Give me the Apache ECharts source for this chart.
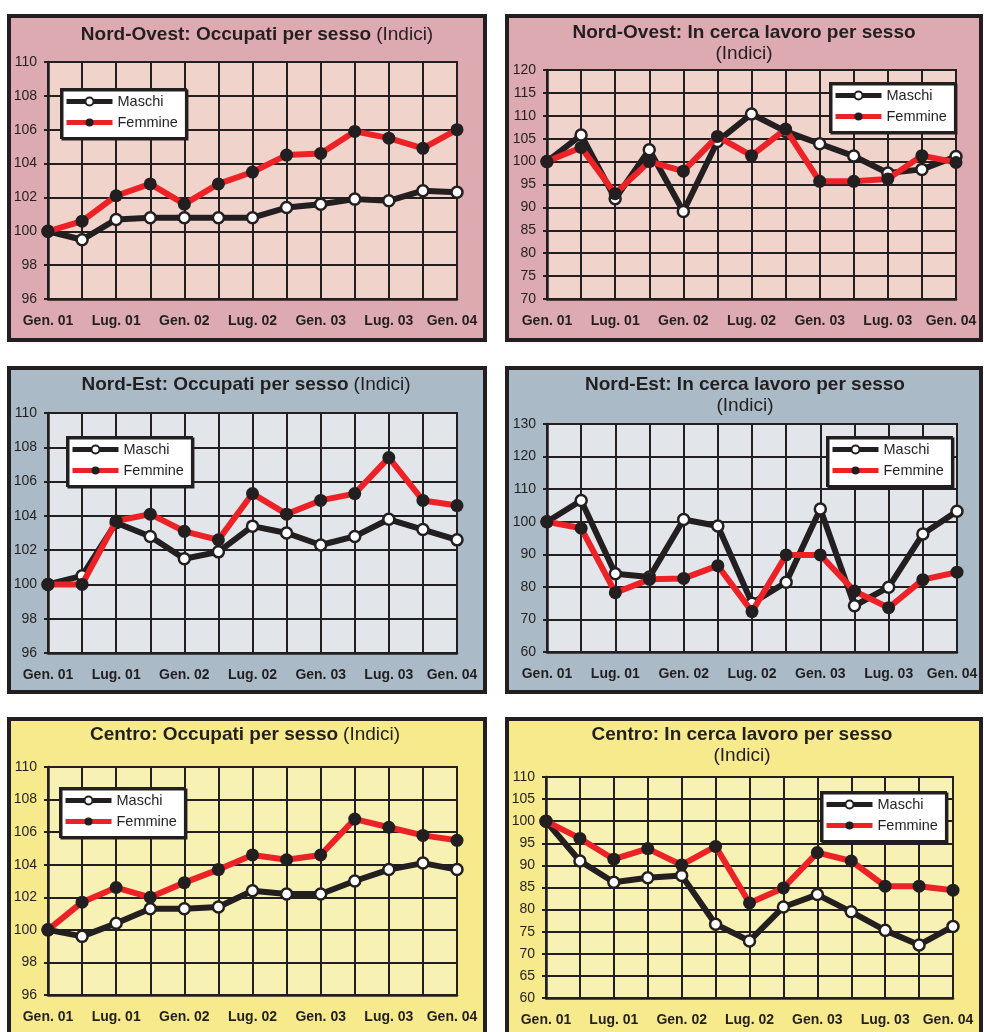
<!DOCTYPE html>
<html>
<head>
<meta charset="utf-8">
<title>Occupati e in cerca di lavoro per sesso</title>
<script src="https://cdn.jsdelivr.net/npm/echarts@6/dist/echarts.min.js"></script>
<style>
  html, body { margin: 0; padding: 0; background: #fff; }
  #chart { width: 984px; height: 1032px; }
</style>
</head>
<body>
<div id="chart"></div>
<script>
// trimestri: sull'asse si vedono solo Gen. e Lug.
const quarters = ['Gen. 01', 'Apr. 01', 'Lug. 01', 'Ott. 01', 'Gen. 02', 'Apr. 02', 'Lug. 02',
  'Ott. 02', 'Gen. 03', 'Apr. 03', 'Lug. 03', 'Ott. 03', 'Gen. 04']

// Nord-Ovest
const noOccMaschi = [100, 99.5, 100.7, 100.8, 100.8, 100.8, 100.8, 101.4, 101.6, 101.9, 101.8, 102.4, 102.3]
const noOccFemmine = [100, 100.6, 102.1, 102.8, 101.6, 102.8, 103.5, 104.5, 104.6, 105.9, 105.5, 104.9, 106.0]
const noCercaMaschi = [100, 105.8, 91.9, 102.6, 89.1, 104.4, 110.4, 106.6, 103.9, 101.2, 97.5, 98.3, 101.1]
const noCercaFemmine = [100, 103.1, 93.0, 100, 97.9, 105.5, 101.3, 107.1, 95.7, 95.7, 96.2, 101.3, 99.8]

// Nord-Est
const neOccMaschi = [100, 100.5, 103.6, 102.8, 101.5, 101.9, 103.4, 103.0, 102.3, 102.8, 103.8, 103.2, 102.6]
const neOccFemmine = [100, 100, 103.7, 104.1, 103.1, 102.6, 105.3, 104.1, 104.9, 105.3, 107.4, 104.9, 104.6]
const neCercaMaschi = [100, 106.5, 84.0, 83.0, 100.7, 98.7, 75.0, 81.4, 103.9, 74.2, 79.9, 96.2, 103.2]
const neCercaFemmine = [100, 98.0, 78.2, 82.3, 82.6, 86.5, 72.4, 89.8, 89.8, 78.7, 73.6, 82.2, 84.5]

// Centro
const ceOccMaschi = [100, 99.6, 100.4, 101.3, 101.3, 101.4, 102.4, 102.2, 102.2, 103.0, 103.7, 104.1, 103.7]
const ceOccFemmine = [100, 101.7, 102.6, 102.0, 102.9, 103.7, 104.6, 104.3, 104.6, 106.8, 106.3, 105.8, 105.5]
const ceCercaMaschi = [100, 91.0, 86.2, 87.2, 87.7, 76.7, 72.9, 80.6, 83.4, 79.5, 75.3, 72.0, 76.2]
const ceCercaFemmine = [100, 96.1, 91.4, 93.8, 90.1, 94.3, 81.5, 84.9, 92.9, 91.0, 85.3, 85.3, 84.4]

const INK = '#231f20'
const RED = '#ec2227'
const FONT = "'Liberation Sans', Arial, Helvetica, sans-serif"

const PINK = { bg: '#dcaab0', plot: '#f0d4cc' }
const BLUE = { bg: '#aabbc7', plot: '#e2e6eb' }
const YELLOW = { bg: '#f6ea8c', plot: '#f7f1b4' }

// un oggetto per pannello: testo, posizione e scala
const panels = [
  { name: 'Nord-Ovest: Occupati per sesso', split: false, colors: PINK,
    box: [9, 16, 476, 324], grid: [48, 62, 409, 237], titleAt: [257, 24], legendAt: [61, 89],
    y: [96, 110, 2], maschi: noOccMaschi, femmine: noOccFemmine },
  { name: 'Nord-Ovest: In cerca lavoro per sesso', split: true, colors: PINK,
    box: [507, 16, 474, 324], grid: [547, 70, 409, 229], titleAt: [744, 22], legendAt: [830, 83],
    y: [70, 120, 5], maschi: noCercaMaschi, femmine: noCercaFemmine },
  { name: 'Nord-Est: Occupati per sesso', split: false, colors: BLUE,
    box: [9, 368, 476, 324], grid: [48, 413, 409, 240], titleAt: [246, 374], legendAt: [67, 437],
    y: [96, 110, 2], maschi: neOccMaschi, femmine: neOccFemmine },
  { name: 'Nord-Est: In cerca lavoro per sesso', split: true, colors: BLUE,
    box: [507, 368, 474, 324], grid: [547, 424, 410, 228], titleAt: [745, 374], legendAt: [827, 437],
    y: [60, 130, 10], maschi: neCercaMaschi, femmine: neCercaFemmine },
  { name: 'Centro: Occupati per sesso', split: false, colors: YELLOW,
    box: [9, 719, 476, 340], grid: [48, 767, 409, 228], titleAt: [245, 724], legendAt: [60, 788],
    y: [96, 110, 2], maschi: ceOccMaschi, femmine: ceOccFemmine },
  { name: 'Centro: In cerca lavoro per sesso', split: true, colors: YELLOW,
    box: [507, 719, 474, 340], grid: [546, 777, 407, 221], titleAt: [742, 724], legendAt: [821, 792],
    y: [60, 110, 5], maschi: ceCercaMaschi, femmine: ceCercaFemmine }
]

// l'ultima etichetta e' spostata un po' a sinistra come nell'originale
const axisData = quarters.map((q, i) =>
  i === quarters.length - 1 ? { value: q, textStyle: { padding: [0, 10, 0, 0] } } : q)

const option = {
  animation: false,
  textStyle: { fontFamily: FONT },
  graphic: [],
  title: [],
  legend: [],
  grid: [],
  xAxis: [],
  yAxis: [],
  series: []
}

panels.forEach((p, i) => {
  // cornice del pannello
  option.graphic.push({
    type: 'rect',
    z: -10,
    shape: { x: p.box[0], y: p.box[1], width: p.box[2], height: p.box[3] },
    style: { fill: p.colors.bg, stroke: INK, lineWidth: 4 }
  })

  option.title.push({
    text: p.split ? `{b|${p.name}}\n{n|(Indici)}` : `{b|${p.name}} {n|(Indici)}`,
    left: p.titleAt[0],
    top: p.titleAt[1],
    textAlign: 'center',
    padding: 0,
    textStyle: {
      fontFamily: FONT,
      fontWeight: 'normal',
      rich: {
        b: { fontSize: 19, fontWeight: 'bold', color: INK, fontFamily: FONT, lineHeight: 21 },
        n: { fontSize: 19, fontWeight: 'normal', color: INK, fontFamily: FONT, lineHeight: 21 }
      }
    }
  })

  option.legend.push({
    data: ['Maschi', 'Femmine'],
    left: p.legendAt[0],
    top: p.legendAt[1],
    orient: 'vertical',
    selectedMode: false,
    itemWidth: 46,
    itemHeight: 10,
    itemGap: 6,
    padding: [5, 8, 8, 3],
    backgroundColor: '#fff',
    borderColor: INK,
    borderWidth: 2,
    borderRadius: 0,
    shadowColor: INK,
    shadowBlur: 0,
    shadowOffsetX: 1.5,
    shadowOffsetY: 1.5,
    lineStyle: { width: 5 },
    textStyle: { fontSize: 14.5, color: INK, fontFamily: FONT, lineHeight: 14 }
  })

  option.grid.push({
    left: p.grid[0],
    top: p.grid[1],
    width: p.grid[2],
    height: p.grid[3],
    show: true,
    backgroundColor: p.colors.plot,
    borderColor: INK,
    borderWidth: 2,
    containLabel: false,
    outerBoundsMode: 'none'
  })

  option.xAxis.push({
    gridIndex: i,
    type: 'category',
    boundaryGap: false,
    data: axisData,
    axisLine: { lineStyle: { color: INK, width: 2.5 } },
    axisTick: { show: false },
    axisLabel: { interval: 1, margin: 15, color: INK, fontSize: 14, fontWeight: 'bold', fontFamily: FONT },
    splitLine: { show: true, interval: 0, lineStyle: { color: INK, width: 2 } }
  })

  option.yAxis.push({
    gridIndex: i,
    type: 'value',
    min: p.y[0],
    max: p.y[1],
    interval: p.y[2],
    axisLine: { show: true, lineStyle: { color: INK, width: 2.5 } },
    axisTick: { show: true, length: 4, lineStyle: { color: INK, width: 2 } },
    axisLabel: { margin: 11, color: INK, fontSize: 14, fontFamily: FONT },
    splitLine: { show: true, lineStyle: { color: INK, width: 2 } }
  })

  option.series.push({
    name: 'Maschi',
    type: 'line',
    xAxisIndex: i,
    yAxisIndex: i,
    data: p.maschi,
    z: 3,
    symbol: 'circle',
    symbolSize: 11,
    lineStyle: { color: INK, width: 6 },
    itemStyle: { color: '#fff', borderColor: INK, borderWidth: 2.5 }
  }, {
    name: 'Femmine',
    type: 'line',
    xAxisIndex: i,
    yAxisIndex: i,
    data: p.femmine,
    z: 4,
    symbol: 'circle',
    symbolSize: 13,
    lineStyle: { color: RED, width: 6 },
    itemStyle: { color: INK }
  })
})

const chart = echarts.init(document.getElementById('chart'))
chart.setOption(option)
</script>
</body>
</html>
